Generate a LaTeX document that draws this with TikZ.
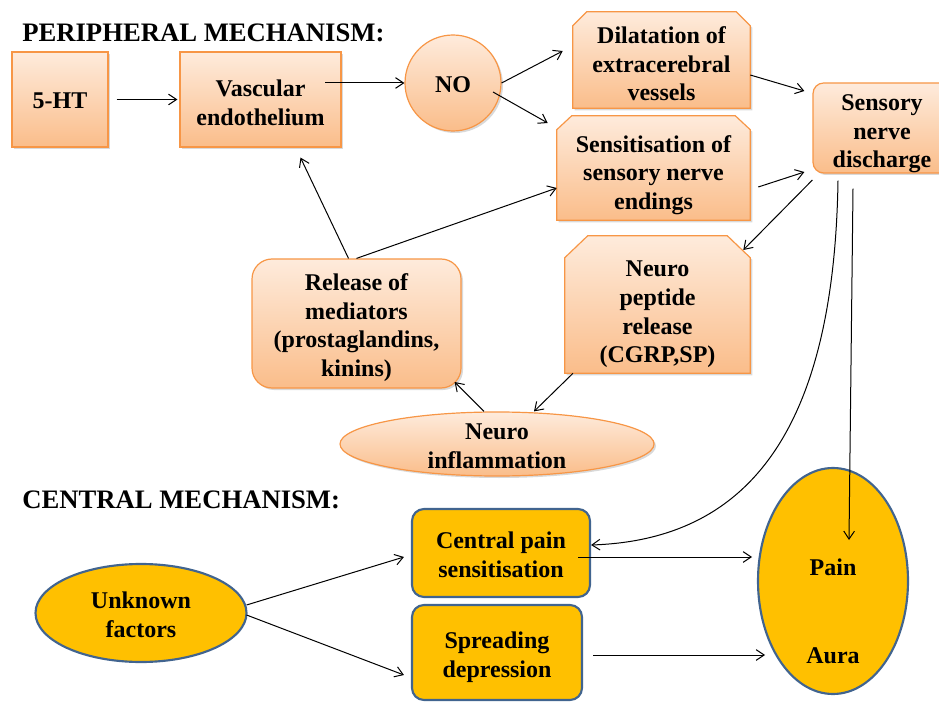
\documentclass[tikz,border=0pt]{standalone}
\usepackage{fontspec}
\setmainfont{Liberation Serif}
\usetikzlibrary{shapes.geometric,shadows,arrows.meta,calc}
\definecolor{otop}{HTML}{FEEBDC}
\definecolor{obot}{HTML}{FABD8A}
\definecolor{oline}{HTML}{F79646}
\definecolor{gold}{HTML}{FFC000}
\definecolor{gline}{HTML}{41648F}
\begin{document}
\begin{tikzpicture}[x=0.75pt,y=-0.75pt,
  txt/.style={font=\bfseries\fontsize{18}{21.5}\selectfont, align=center, text=black, inner sep=0pt},
  ofill/.style={draw=oline, line width=0.9pt, top color=otop, bottom color=obot,
    drop shadow={shadow xshift=1.5pt,shadow yshift=-1.5pt,opacity=0.3}},
  obox/.style={rectangle, ofill, inner sep=0pt},
  rbox/.style={obox, rounded corners=#1},
  ghost/.style={rectangle, inner sep=0pt},
  oell/.style={obox, ellipse},
  gbox/.style={rectangle, rounded corners=9pt, draw=gline, line width=1.6pt, fill=gold, inner sep=0pt},
  gell/.style={ellipse, draw=gline, line width=1.6pt, fill=gold, inner sep=0pt},
  arr/.style={-{Straight Barb[length=6pt,width=8pt]}, line width=0.75pt},
  ttl/.style={font=\bfseries\fontsize{20}{23}\selectfont, anchor=west, inner sep=0pt}
]
\clip (0,0) rectangle (939,702);

% titles
\node[ttl] (t1) at (22,33) {PERIPHERAL MECHANISM:};
\node[ttl] (t2) at (22,500) {CENTRAL MECHANISM:};

% peripheral shapes
\node[obox, minimum width=72pt, minimum height=71.25pt] (ht) at (60,99.5) {};
\node[obox, minimum width=120.75pt, minimum height=71.25pt] (vasc) at (260.5,99.5) {};
\node[obox, circle, minimum size=72pt] (no) at (453,83) {};
\node[ghost, minimum width=132.75pt, minimum height=72pt] (dil) at (661.5,60) {};
\path[ofill] (dil.south west) -- ($(dil.north west)+(0,14)$) -- ($(dil.north west)+(14,0)$)
  -- ($(dil.north east)+(-14,0)$) -- ($(dil.north east)+(0,14)$) -- (dil.south east) -- cycle;
\node[ghost, minimum width=144.75pt, minimum height=78pt] (sens) at (653.5,168) {};
\path[ofill] (sens.south west) -- ($(sens.north west)+(0,14)$) -- ($(sens.north west)+(15,0)$)
  -- ($(sens.north east)+(-15,0)$) -- ($(sens.north east)+(0,14)$) -- (sens.south east) -- cycle;
\node[rbox=8pt, minimum width=103.5pt, minimum height=67.5pt] (sns) at (882,128) {};
\node[ghost, minimum width=138.75pt, minimum height=102.75pt] (pep) at (657.5,304.5) {};
\path[ofill] (pep.south west) -- ($(pep.north west)+(0,22)$) -- ($(pep.north west)+(23,0)$)
  -- ($(pep.north east)+(-23,0)$) -- ($(pep.north east)+(0,22)$) -- (pep.south east) -- cycle;
\node[rbox=15pt, minimum width=156.75pt, minimum height=96.75pt] (rel) at (356.5,323.5) {};
\node[oell, minimum width=235.5pt, minimum height=48pt] (infl) at (497,444) {};

% peripheral texts
\node[txt] (htt) at (60,100.5) {5-HT};
\node[txt] (vasct) at (260.5,102.5) {Vascular\\endothelium};
\node[txt] (not) at (453,85) {NO};
\node[txt] (dilt) at (661.5,64) {Dilatation of\\extracerebral\\vessels};
\node[txt] (senst) at (653.5,175) {Sensitisation of\\sensory nerve\\endings};
\node[txt] (snst) at (882,134) {Sensory\\nerve\\discharge};
\node[txt] (pept) at (657.5,314.5) {Neuro\\peptide\\release\\(CGRP,SP)};
\node[txt] (relt) at (356.5,327.5) {Release of\\mediators\\(prostaglandins,\\kinins)};
\node[txt] (inflt) at (497,446) {Neuro\\inflammation};

% central shapes
\node[gbox, minimum width=133.5pt, minimum height=66pt] (cen) at (501,553) {};
\node[gbox, minimum width=127.5pt, minimum height=71.25pt] (spr) at (497,652.5) {};
\node[gell, minimum width=158.25pt, minimum height=73.5pt] (unk) at (141,613) {};
\node[gell, minimum width=112.5pt, minimum height=169.5pt] (pa) at (833,581) {};

% central texts
\node[txt] (cent) at (501,555) {Central pain\\sensitisation};
\node[txt] (sprt) at (497,657.5) {Spreading\\depression};
\node[txt] (unkt) at (141,615) {Unknown\\factors};
\node[txt] (pain) at (833,567) {Pain};
\node[txt] (aura) at (833,656) {Aura};

% connectors
\draw[arr] ($(ht.east)+(8,0)$) -- ($(vasc.west)+(-2,0)$);
\draw[arr] ($(vasc.center)+(64.5,-16.5)$) -- (no.west);
\draw[arr] (no.east) -- ($(dil.west)+(-10,-9)$);
\draw[arr] ($(no.center)+(40,9)$) -- ($(sens.west)+(-9,-45)$);
\draw[arr] ($(dil.east)+(0,15)$) -- ($(sns.west)+(-8,-37)$);
\draw[arr] ($(sens.east)+(8,19)$) -- ($(sns.west)+(-8,44)$);
\draw[arr] ($(sns.west)+(0,52)$) -- ($(pep.east)+(-7,-54.5)$);
\draw[arr] ($(pep.south)+(-84.5,0)$) -- ($(infl.north)+(37,0)$);
\draw[arr] ($(infl.north)+(-13,0)$) -- ($(rel.east)+(-7,58.5)$);
\draw[arr] ($(rel.north)+(-8,0)$) -- ($(vasc.south)+(40,10)$);
\draw[arr] (rel.north) -- ($(sens.west)+(0,20)$);
\draw[arr] ($(sns.south)+(-44,7)$) .. controls ($(sns.south)+(-48,267)$) and ($(cen.east)+(150,-13)$) .. ($(cen.east)+(0,-8)$);
\draw[arr] ($(sns.south)+(-29,15)$) -- ($(pa.center)+(16,-41)$);
\draw[arr] ($(cen.east)+(-13,4)$) -- ($(pa.center)+(-81,-24)$);
\draw[arr] ($(spr.east)+(10,2.5)$) -- ($(pa.center)+(-68,74)$);
\draw[arr] ($(unk.east)+(-1,-8)$) -- ($(cen.west)+(-7,4)$);
\draw[arr] ($(unk.east)+(-1,2)$) -- ($(spr.west)+(-7,22.5)$);
\end{tikzpicture}
\end{document}
